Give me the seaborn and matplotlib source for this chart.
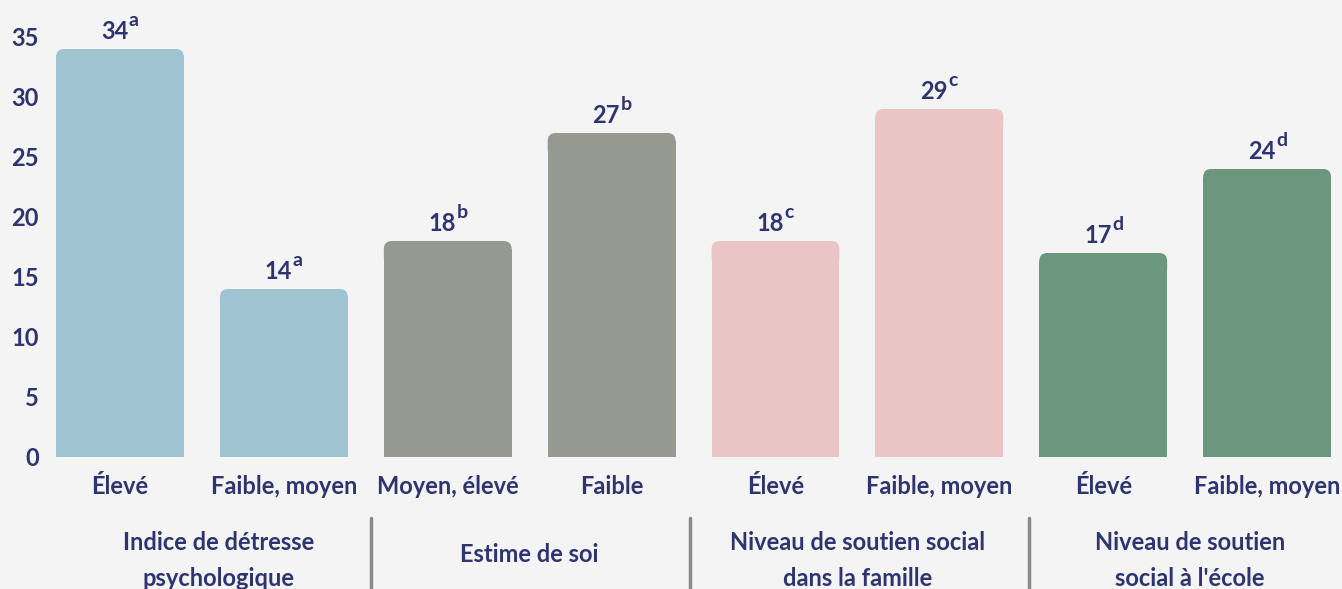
import numpy as np
import pandas as pd
import seaborn as sns
import matplotlib.pyplot as plt
from matplotlib.patches import FancyBboxPatch

groupes = ['Indice de détresse\npsychologique', 'Indice de détresse\npsychologique',
           'Estime de soi', 'Estime de soi',
           'Niveau de soutien social\ndans la famille', 'Niveau de soutien social\ndans la famille',
           'Niveau de soutien\nsocial à l\'école', 'Niveau de soutien\nsocial à l\'école']
modalites = ['Élevé', 'Faible, moyen', 'Moyen, élevé', 'Faible',
             'Élevé', 'Faible, moyen', 'Élevé', 'Faible, moyen']
valeurs = [34, 14, 18, 27, 18, 29, 17, 24]
exposants = ['a', 'a', 'b', 'b', 'c', 'c', 'd', 'd']
couleurs = {groupes[0]: '#a0c3d2', groupes[2]: '#96998f',
            groupes[4]: '#e9c5c5', groupes[6]: '#6b977e'}

bleu = '#2d3470'
fond = '#f4f4f4'

sns.set_style('white')
plt.rcParams['font.family'] = ['Lato', 'DejaVu Sans']
plt.rcParams['font.weight'] = 'bold'

df = pd.DataFrame({'groupe': groupes, 'modalite': modalites, 'valeur': valeurs})
df['cle'] = [f'{i}' for i in range(len(df))]

fig = plt.figure(figsize=(13.42, 5.89), dpi=100, facecolor=fond)
ax = fig.add_axes([50 / 1342, 132 / 589, 1292 / 1342, 432 / 589])
ax.set_facecolor(fond)

sns.barplot(data=df, x='cle', y='valeur', hue='groupe', palette=couleurs,
            order=list(df['cle']), dodge=False, width=0.78, legend=False,
            saturation=1, linewidth=0, ax=ax)

ax.set_xlim(-0.427, 7.457)
ax.set_ylim(0, 36)

# coins arrondis en haut des barres
px_x = 1292 / (7.457 + 0.427)
px_y = 432 / 36
r = 8 / px_x
ry = 8 / px_y
for p in list(ax.patches):
    x, w, h = p.get_x(), p.get_width(), p.get_height()
    c = p.get_facecolor()
    p.set_height(h - ry)
    ax.add_patch(FancyBboxPatch((x, h - 3 * ry), w, 3 * ry,
                                boxstyle=f'round,pad=0,rounding_size={r}',
                                mutation_aspect=px_x / px_y, facecolor=c,
                                edgecolor='none', linewidth=0))
    i = int(round(x + w / 2))
    num = ax.annotate(f'{valeurs[i]}', (x + w / 2, h), xytext=(-4, 4),
                      textcoords='offset points', ha='center', va='bottom',
                      fontsize=17, fontweight='bold', color=bleu)
    ax.annotate(exposants[i], xy=(1, 1), xycoords=num, xytext=(0.5, 6),
                textcoords='offset points', ha='left', va='top',
                fontsize=14, fontweight='bold', color=bleu)

sns.despine(ax=ax, left=True, bottom=True)
ax.set_xlabel('')
ax.set_ylabel('')
ax.set_yticks(range(0, 36, 5))
ax.set_xticks(range(8))
ax.set_xticklabels(modalites)
ax.tick_params(axis='both', length=0, labelsize=17, labelcolor=bleu)
ax.tick_params(axis='x', pad=13)
ax.tick_params(axis='y', pad=8)
for t in ax.get_xticklabels() + ax.get_yticklabels():
    t.set_fontweight('bold')

# libellés de groupes
trans = ax.get_xaxis_transform()
centres = [0.6, 2.5, 4.5, 6.53]
noms = [groupes[0], groupes[2], groupes[4], groupes[6]]
for cx, nom in zip(centres, noms):
    ny = -0.24 if '\n' in nom else -0.225
    ax.text(cx, ny, nom, transform=trans, ha='center', va='center', fontsize=17,
            fontweight='bold', color=bleu, linespacing=1.7, clip_on=False)
for sx in [1.53, 3.48, 5.55]:
    ax.plot([sx, sx], [-0.142, -0.32], transform=trans, color='#8a8a8a', lw=2.5,
            clip_on=False)

fig.savefig('out.png', dpi=100, facecolor=fond)
